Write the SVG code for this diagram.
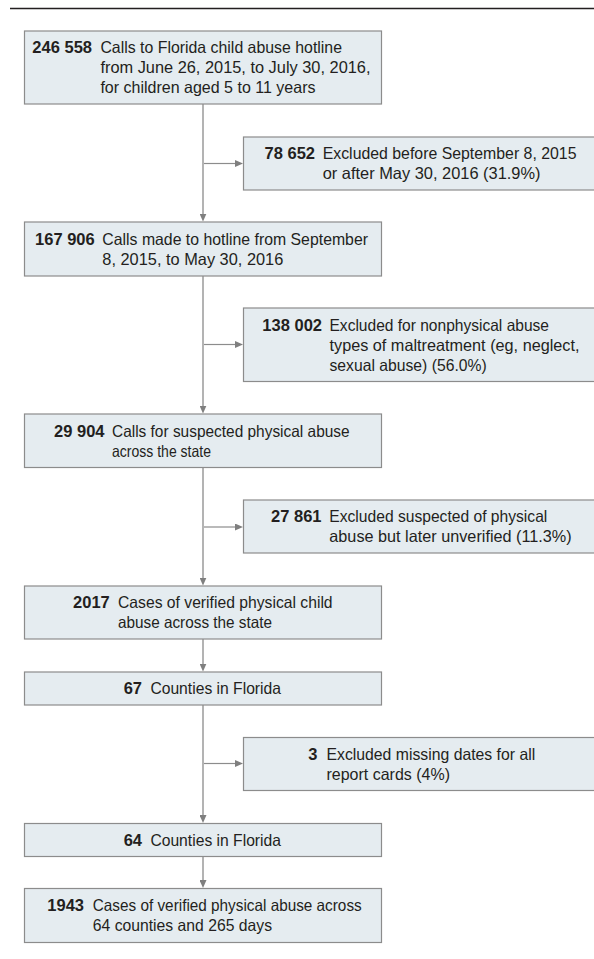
<svg xmlns="http://www.w3.org/2000/svg" width="594" height="959" viewBox="0 0 594 959">
<defs>
<style>
text { font-family: "Liberation Sans", Arial, sans-serif; font-size: 16.5px; fill: #231f20; }
.num { font-weight: bold; text-anchor: end; }
.box { fill: #e5ecf0; stroke: #8c8c8c; stroke-width: 1.2; }
.v { stroke: #b3b3b3; stroke-width: 2; fill: none; }
.h { stroke: #8c8c8c; stroke-width: 1.2; fill: none; }
.rule { stroke: #231f20; stroke-width: 1.3; }
</style>
<marker id="ah" markerUnits="userSpaceOnUse" markerWidth="8" markerHeight="7" refX="1" refY="3.5" orient="auto">
<path d="M0,0 L8,3.5 L0,7 z" fill="#7f7f7f"/>
</marker>
</defs>
<rect width="594" height="959" fill="#ffffff"/>
<line class="rule" x1="10" y1="8.5" x2="594" y2="8.5"/>

<g id="connectors">
<line class="v" x1="203" y1="104" x2="203" y2="214.5" marker-end="url(#ah)"/>
<line class="v" x1="203" y1="276" x2="203" y2="406.5" marker-end="url(#ah)"/>
<line class="v" x1="203" y1="467.5" x2="203" y2="578.5" marker-end="url(#ah)"/>
<line class="v" x1="203" y1="639" x2="203" y2="664.5" marker-end="url(#ah)"/>
<line class="v" x1="203" y1="705" x2="203" y2="816" marker-end="url(#ah)"/>
<line class="v" x1="203" y1="856.5" x2="203" y2="881" marker-end="url(#ah)"/>
<line class="h" x1="204" y1="163.5" x2="236" y2="163.5" marker-end="url(#ah)"/>
<line class="h" x1="204" y1="344.5" x2="236" y2="344.5" marker-end="url(#ah)"/>
<line class="h" x1="204" y1="527" x2="236" y2="527" marker-end="url(#ah)"/>
<line class="h" x1="204" y1="763.5" x2="236" y2="763.5" marker-end="url(#ah)"/>
</g>

<g id="box1">
<rect class="box" x="24.5" y="31" width="357" height="73"/>
<text class="num" x="92" y="53.4">246 558</text>
<text x="100.4" y="53.4" textLength="241.6" lengthAdjust="spacingAndGlyphs">Calls to Florida child abuse hotline</text>
<text x="100.4" y="73.4" textLength="270.1" lengthAdjust="spacingAndGlyphs">from June 26, 2015, to July 30, 2016,</text>
<text x="100.4" y="93.4" textLength="215.1" lengthAdjust="spacingAndGlyphs">for children aged 5 to 11 years</text>
</g>

<g id="excl1">
<rect class="box" x="243.5" y="137" width="352" height="53"/>
<text class="num" x="315" y="159.4">78 652</text>
<text x="322.7" y="159.4" textLength="253.8" lengthAdjust="spacingAndGlyphs">Excluded before September 8, 2015</text>
<text x="322.7" y="179.4" textLength="217.8" lengthAdjust="spacingAndGlyphs">or after May 30, 2016 (31.9%)</text>
</g>

<g id="box2">
<rect class="box" x="24.5" y="222" width="357" height="54"/>
<text class="num" x="94.7" y="244.9">167 906</text>
<text x="102.3" y="244.9" textLength="265.7" lengthAdjust="spacingAndGlyphs">Calls made to hotline from September</text>
<text x="102.3" y="264.9" textLength="181" lengthAdjust="spacingAndGlyphs">8, 2015, to May 30, 2016</text>
</g>

<g id="excl2">
<rect class="box" x="243.5" y="308" width="352" height="73.5"/>
<text class="num" x="322" y="330.6">138 002</text>
<text x="329.5" y="330.6" textLength="219.5" lengthAdjust="spacingAndGlyphs">Excluded for nonphysical abuse</text>
<text x="329.5" y="350.6" textLength="250" lengthAdjust="spacingAndGlyphs">types of maltreatment (eg, neglect,</text>
<text x="329.5" y="370.6" textLength="157.2" lengthAdjust="spacingAndGlyphs">sexual abuse) (56.0%)</text>
</g>

<g id="box3">
<rect class="box" x="24.5" y="414" width="357" height="53.5"/>
<text class="num" x="104.5" y="436.6">29 904</text>
<text x="112" y="436.6" textLength="237.6" lengthAdjust="spacingAndGlyphs">Calls for suspected physical abuse</text>
<text x="112" y="456.6" textLength="99" lengthAdjust="spacingAndGlyphs">across the state</text>
</g>

<g id="excl3">
<rect class="box" x="243.5" y="500" width="352" height="53"/>
<text class="num" x="321.5" y="522.4">27 861</text>
<text x="329.3" y="522.4" textLength="218" lengthAdjust="spacingAndGlyphs">Excluded suspected of physical</text>
<text x="329.3" y="542.4" textLength="242.4" lengthAdjust="spacingAndGlyphs">abuse but later unverified (11.3%)</text>
</g>

<g id="box4">
<rect class="box" x="24.5" y="586" width="357" height="53"/>
<text class="num" x="109.8" y="608.4">2017</text>
<text x="118" y="608.4" textLength="214.6" lengthAdjust="spacingAndGlyphs">Cases of verified physical child</text>
<text x="118" y="628.4" textLength="154" lengthAdjust="spacingAndGlyphs">abuse across the state</text>
</g>

<g id="box5">
<rect class="box" x="24.5" y="672" width="357" height="33"/>
<text class="num" x="142" y="694.4">67</text>
<text x="150.4" y="694.4" textLength="130.6" lengthAdjust="spacingAndGlyphs">Counties in Florida</text>
</g>

<g id="excl4">
<rect class="box" x="243.5" y="737.5" width="352" height="53"/>
<text class="num" x="317.4" y="759.9">3</text>
<text x="326.5" y="759.9" textLength="208.7" lengthAdjust="spacingAndGlyphs">Excluded missing dates for all</text>
<text x="326.5" y="779.9" textLength="123.5" lengthAdjust="spacingAndGlyphs">report cards (4%)</text>
</g>

<g id="box6">
<rect class="box" x="24.5" y="823.5" width="357" height="33"/>
<text class="num" x="142" y="845.9">64</text>
<text x="150.4" y="845.9" textLength="130.6" lengthAdjust="spacingAndGlyphs">Counties in Florida</text>
</g>

<g id="box7">
<rect class="box" x="24.5" y="888.5" width="357" height="54"/>
<text class="num" x="84" y="911.4">1943</text>
<text x="92.8" y="911.4" textLength="268.9" lengthAdjust="spacingAndGlyphs">Cases of verified physical abuse across</text>
<text x="92.8" y="931.4" textLength="179.2" lengthAdjust="spacingAndGlyphs">64 counties and 265 days</text>
</g>
</svg>
